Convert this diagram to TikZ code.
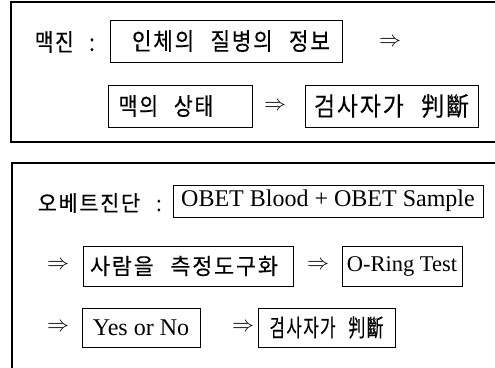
\documentclass[tikz,border=0pt]{standalone}
\usepackage{fontspec}
\usepackage{graphicx}
\setmainfont{Liberation Serif}
\newfontfamily\kr[LetterSpace=8,WordSpace=2.5,FakeBold=0.25]{Noto Sans CJK KR}
\newcommand\kt[3]{\resizebox{#1}{#2}{\kr\fontsize{20}{22}\selectfont #3}}
\begin{document}
\begin{tikzpicture}[x=1pt,y=-1pt,
  frame/.style={draw=black,line width=1.3pt},
  box/.style={draw=black,line width=1pt,inner sep=0pt,anchor=center},
  lat/.style={font=\fontsize{24}{26}\selectfont},
  arr/.style={inner sep=0pt}]
\useasboundingbox (0,0) rectangle (495,367);
\clip (0,0) rectangle (495,367);
\fill[white] (0,0) rectangle (495,367);
% outer frames
\draw[frame] (11,2) rectangle (505,142);
\draw[frame] (12,163) rectangle (505,380);
% top panel
\node[anchor=east,inner sep=0pt] (l1) at (95,42) {\kt{60pt}{20pt}{맥진 :}};
\node[box,minimum width=232pt,minimum height=42pt] (b1) at (226,41) {\hspace*{10pt}\kt{198pt}{20pt}{인체의 질병의 정보}};
\node[arr] (a1) at (390,42) {\scalebox{2.2}{$\Rightarrow$}};
\node[box,minimum width=144pt,minimum height=42pt] (b2) at (180,106) {\kt{95pt}{20pt}{맥의 상태}\hspace*{28pt}};
\node[arr] (a2) at (275,106) {\scalebox{2.2}{$\Rightarrow$}};
\node[box,minimum width=173pt,minimum height=42pt] (b3) at (391.5,106) {\kt{155pt}{21.5pt}{검사자가 判斷}};
% bottom panel
\node[anchor=east,inner sep=0pt] (l2) at (162,203) {\kt{124pt}{18pt}{오베트진단 :}};
\node[box,lat,minimum width=310pt,minimum height=32pt] (b4) at (328,201) {OBET Blood + OBET Sample};
\node[arr] (a3) at (58,265) {\scalebox{2.2}{$\Rightarrow$}};
\node[box,minimum width=210pt,minimum height=40pt] (b5) at (188,266) {\kt{188pt}{18.5pt}{사람을 측정도구화}\hspace*{8pt}};
\node[arr] (a4) at (318,265) {\scalebox{2.2}{$\Rightarrow$}};
\node[box,lat,font=\fontsize{22.5}{24}\selectfont,minimum width=120pt,minimum height=40pt] (b6) at (402,266) {O-Ring Test};
\node[arr] (a5) at (58,327) {\scalebox{2.2}{$\Rightarrow$}};
\node[box,lat,minimum width=118pt,minimum height=39pt] (b7) at (141,327.5) {Yes or No};
\node[arr] (a6) at (243,327) {\scalebox{2.2}{$\Rightarrow$}};
\node[box,minimum width=137pt,minimum height=39pt] (b8) at (326.5,327.5) {\kt{114pt}{20pt}{검사자가 判斷}};
\end{tikzpicture}
\end{document}
